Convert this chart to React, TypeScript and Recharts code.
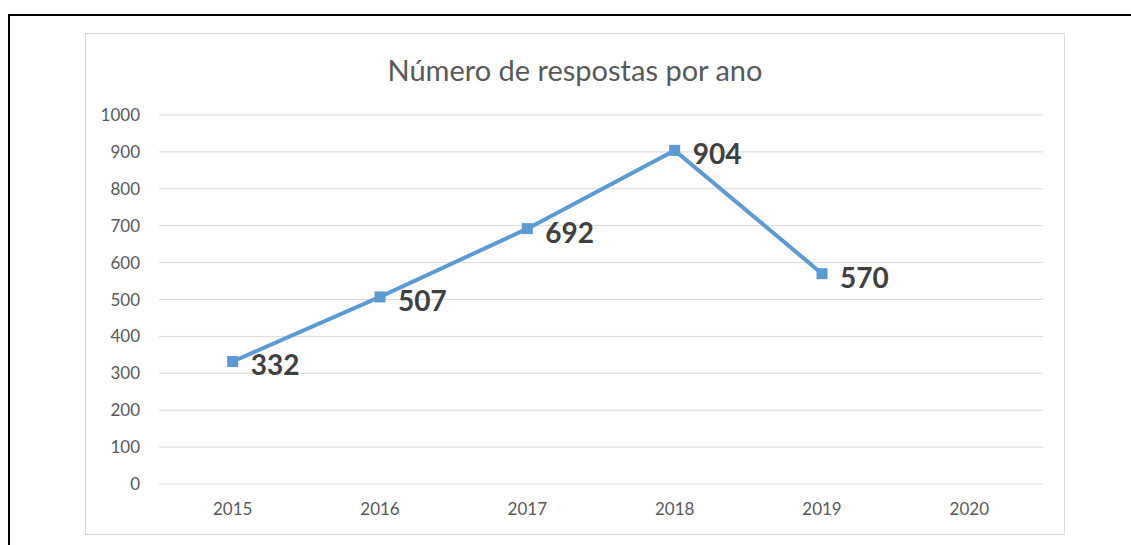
import React from 'react';
import { LineChart, Line, XAxis, YAxis, CartesianGrid, LabelList } from 'recharts';

const years = ['2015', '2016', '2017', '2018', '2019', '2020'];
const responses: (number | null)[] = [332, 507, 692, 904, 570, null];
const yTicks = [0, 100, 200, 300, 400, 500, 600, 700, 800, 900, 1000];
const title = 'Número de respostas por ano';

const data = years.map((y, i) => ({ year: y, value: responses[i] }));

const FONT = 'Lato, "Open Sans", sans-serif';
const BLUE = '#5B9BD5';

const SquareDot = (props: any) => {
  const { cx, cy } = props;
  if (cx == null || cy == null || props.value == null) return null;
  return <rect x={cx - 5.5} y={cy - 5.5} width={11} height={11} fill={BLUE} />;
};

const ValueLabel = (props: any) => {
  const { x, y, value } = props;
  if (value == null) return null;
  return (
    <text x={x + 18} y={y + 3} dominantBaseline="central" fill="#404040" fontFamily={FONT} fontWeight={700} fontSize={28}>
      {value}
    </text>
  );
};

export default function App() {
  return (
    <div style={{ position: 'absolute', left: 0, top: 0, width: 1131, height: 545, background: '#fff', overflow: 'hidden' }}>
      <div style={{ position: 'absolute', left: 8, top: 14, width: 1123, height: 2, background: '#000' }} />
      <div style={{ position: 'absolute', left: 8, top: 14, width: 2, height: 531, background: '#000' }} />
      <div style={{ position: 'absolute', left: 85, top: 33, width: 978, height: 500, border: '1px solid #d9d9d9' }}>
        <div style={{ position: 'absolute', left: 0, top: 18, width: 978, textAlign: 'center', fontFamily: FONT, fontSize: 29, color: '#595959' }}>
          {title}
        </div>
        <LineChart width={978} height={500} data={data} margin={{ top: 81, right: 21, bottom: 20, left: 0 }}>
          <CartesianGrid vertical={false} stroke="#d9d9d9" strokeWidth={1} />
          <XAxis dataKey="year" scale="band" axisLine={false} tickLine={false} tickSize={0} tickMargin={19} height={30}
            tick={{ fill: '#595959', fontFamily: FONT, fontSize: 17 }} />
          <YAxis domain={[0, 1000]} ticks={yTicks} interval={0} axisLine={false} tickLine={false} tickSize={0} tickMargin={19} width={73}
            tick={{ fill: '#595959', fontFamily: FONT, fontSize: 17 }} />
          <Line type="linear" dataKey="value" stroke={BLUE} strokeWidth={4} dot={<SquareDot />} activeDot={false} isAnimationActive={false}>
            <LabelList dataKey="value" content={<ValueLabel />} />
          </Line>
        </LineChart>
      </div>
    </div>
  );
}
